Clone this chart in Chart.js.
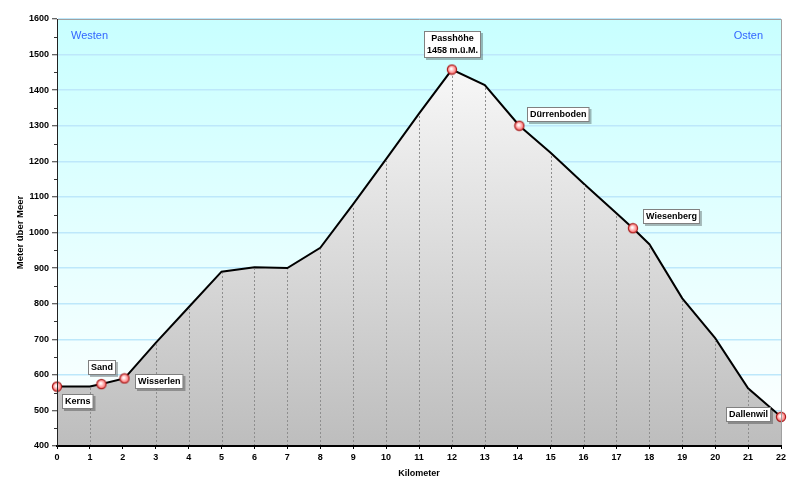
<!DOCTYPE html>
<html lang="de">
<head>
<meta charset="utf-8">
<title>Höhenprofil Kerns - Dallenwil</title>
<script src="https://cdn.jsdelivr.net/npm/chart.js@4/dist/chart.umd.min.js"></script>
<style>
  html, body { margin: 0; padding: 0; background: #fff; }
  #profil { display: block; }
</style>
</head>
<body>
<canvas id="profil" width="800" height="496"></canvas>
<script>
const kilometer = [0, 1, 1.35, 2.05, 3, 4, 5, 6, 7, 8, 9, 10, 11, 12, 13, 14.05, 15, 16, 17, 17.5, 18, 19, 20, 21, 22];
const hoehe = [567, 567, 574, 590, 690, 790, 890, 902, 900, 957, 1080, 1206, 1334, 1458, 1414, 1300, 1224, 1138, 1054, 1012, 967, 815, 703, 562, 482];

// Orte entlang der Strecke
const ortNamen = ['Kerns', 'Sand', 'Wisserlen', ['Passhöhe', '1458 m.ü.M.'], 'Dürrenboden', 'Wiesenberg', 'Dallenwil'];
const ortKm = [0, 1.35, 2.05, 12, 14.05, 17.5, 22];
const ortHoehe = [567, 574, 590, 1458, 1300, 1012, 482];

// Achsen
const kmMin = 0, kmMax = 22, kmSchritt = 1;
const hoeheMin = 400, hoeheMax = 1600, hoeheSchritt = 100;
const achsenTitelX = 'Kilometer';
const achsenTitelY = 'Meter über Meer';
const richtungLinks = 'Westen';
const richtungRechts = 'Osten';

// Lage der Beschriftungskästchen relativ zum Punkt (px)
const etikettVersatz = [[20, 14], [0, -17.5], [34, 3], [0, -26], [38, -12], [38, -12], [-33, -3]];

const schrift = '"Liberation Sans", Arial, sans-serif';

function markerBild() {
    const c = document.createElement('canvas');
    c.width = 12;
    c.height = 12;
    const g = c.getContext('2d');
    const grad = g.createRadialGradient(5.2, 5.2, 0.5, 6, 6, 5);
    grad.addColorStop(0, '#ffffff');
    grad.addColorStop(0.45, '#ffb4b4');
    grad.addColorStop(1, '#ff5a5a');
    g.beginPath();
    g.arc(6, 6, 4.6, 0, Math.PI * 2);
    g.fillStyle = grad;
    g.fill();
    g.lineWidth = 1.2;
    g.strokeStyle = '#a81c1c';
    g.stroke();
    return c;
}

const profilPlugin = {
    id: 'profil',
    beforeDraw(chart) {
        // Hintergrund des Diagrammbereichs
        const { ctx, chartArea: a } = chart;
        const g = ctx.createLinearGradient(0, a.top, 0, a.bottom);
        g.addColorStop(0, '#c8ffff');
        g.addColorStop(1, '#ffffff');
        ctx.save();
        ctx.fillStyle = g;
        ctx.fillRect(a.left, a.top, a.right - a.left, a.bottom - a.top);
        ctx.restore();
    },
    afterDatasetDraw(chart, args) {
        if (args.index !== 0) return;
        // gestrichelte Senkrechte unter der Profillinie
        const { ctx, chartArea: a } = chart;
        const meta = chart.getDatasetMeta(0);
        ctx.save();
        ctx.lineWidth = 1;
        ctx.setLineDash([2, 2]);
        meta.data.forEach((p, i) => {
            const km = kilometer[i];
            if (!Number.isInteger(km) || km === kmMin) return;
            const x = Math.round(p.x) + 0.5;
            ctx.strokeStyle = km === kmMax ? '#222' : '#8e8e8e';
            ctx.beginPath();
            ctx.moveTo(x, a.bottom);
            ctx.lineTo(x, p.y + 1.5);
            ctx.stroke();
        });
        ctx.restore();
    },
    afterDatasetsDraw(chart) {
        const { ctx, chartArea: a, scales } = chart;
        ctx.save();
        // Rahmen oben und rechts
        ctx.strokeStyle = '#a0a0a0';
        ctx.lineWidth = 1;
        ctx.beginPath();
        ctx.moveTo(a.left, a.top + 0.5);
        ctx.lineTo(a.right + 0.5, a.top + 0.5);
        ctx.lineTo(a.right + 0.5, a.bottom);
        ctx.stroke();

        // Zwischenstriche an der Y-Achse
        ctx.strokeStyle = '#333';
        for (let v = hoeheMin + hoeheSchritt / 2; v < hoeheMax; v += hoeheSchritt) {
            const y = Math.round(scales.y.getPixelForValue(v)) + 0.5;
            ctx.beginPath();
            ctx.moveTo(a.left - 3, y);
            ctx.lineTo(a.left, y);
            ctx.stroke();
        }

        // Ortsbeschriftungen
        const meta = chart.getDatasetMeta(1);
        ctx.font = 'bold 9px ' + schrift;
        ctx.textAlign = 'center';
        ctx.textBaseline = 'middle';
        meta.data.forEach((p, i) => {
            const zeilen = Array.isArray(ortNamen[i]) ? ortNamen[i] : [ortNamen[i]];
            const breite = Math.max(...zeilen.map(z => ctx.measureText(z).width)) + 5;
            const hoeheBox = zeilen.length * 12 + 2;
            const cx = p.x + etikettVersatz[i][0];
            const cy = p.y + etikettVersatz[i][1];
            const x0 = Math.round(cx - breite / 2) + 0.5;
            const y0 = Math.round(cy - hoeheBox / 2) + 0.5;
            ctx.fillStyle = 'rgba(0,0,0,0.28)';
            ctx.fillRect(x0 + 1.5, y0 + 1.5, breite + 1, hoeheBox + 1);
            ctx.fillStyle = '#fff';
            ctx.fillRect(x0, y0, breite, hoeheBox);
            ctx.strokeStyle = '#808080';
            ctx.strokeRect(x0, y0, breite, hoeheBox);
            ctx.fillStyle = '#000';
            zeilen.forEach((z, k) => {
                ctx.fillText(z, x0 + breite / 2, y0 + 7.5 + k * 12);
            });
        });
        ctx.restore();
    },
    afterDraw(chart) {
        const { ctx, chartArea: a } = chart;
        ctx.save();
        ctx.fillStyle = '#3366ff';
        ctx.font = '11px ' + schrift;
        ctx.textBaseline = 'middle';
        ctx.textAlign = 'left';
        ctx.fillText(richtungLinks, a.left + 14, a.top + 17);
        ctx.textAlign = 'right';
        ctx.fillText(richtungRechts, a.right - 18, a.top + 17);

        ctx.fillStyle = '#000';
        ctx.font = 'bold 9px ' + schrift;
        ctx.textAlign = 'center';
        ctx.fillText(achsenTitelX, (a.left + a.right) / 2, 474);
        ctx.translate(20, (a.top + a.bottom) / 2);
        ctx.rotate(-Math.PI / 2);
        ctx.font = 'bold 9.5px ' + schrift;
        ctx.fillText(achsenTitelY, 0, 0);
        ctx.restore();
    }
};

new Chart(document.getElementById('profil'), {
    type: 'line',
    data: {
        datasets: [
            {
                label: 'Profil',
                data: kilometer.map((km, i) => ({ x: km, y: hoehe[i] })),
                order: 2,
                borderColor: '#000',
                borderWidth: 2,
                tension: 0,
                pointRadius: 0,
                fill: 'start',
                backgroundColor(c) {
                    const a = c.chart.chartArea;
                    if (!a) return '#dddddd';
                    const g = c.chart.ctx.createLinearGradient(0, a.top, 0, a.bottom);
                    g.addColorStop(0, '#ffffff');
                    g.addColorStop(1, '#bdbdbd');
                    return g;
                }
            },
            {
                label: 'Orte',
                data: ortKm.map((km, i) => ({ x: km, y: ortHoehe[i] })),
                order: 1,
                showLine: false,
                clip: false,
                pointStyle: markerBild(),
                pointRadius: 6
            }
        ]
    },
    options: {
        responsive: false,
        animation: false,
        layout: { padding: { left: 0, top: 19, right: 19, bottom: 0 } },
        plugins: {
            legend: { display: false },
            tooltip: { enabled: false }
        },
        scales: {
            x: {
                type: 'linear',
                min: kmMin,
                max: kmMax,
                afterFit(s) { s.height = 50; },
                ticks: {
                    stepSize: kmSchritt,
                    color: '#000',
                    padding: 3,
                    callback: v => String(v),
                    font: { family: schrift, size: 9, weight: 'bold' }
                },
                grid: { drawOnChartArea: false, tickLength: 3, tickColor: '#000' },
                border: { color: '#000', width: 2, z: 1 }
            },
            y: {
                min: hoeheMin,
                max: hoeheMax,
                afterFit(s) { s.width = 57; },
                ticks: {
                    stepSize: hoeheSchritt,
                    color: '#000',
                    padding: 3,
                    callback: v => String(v),
                    font: { family: schrift, size: 9, weight: 'bold' }
                },
                grid: { color: '#bde8fb', lineWidth: 1.5, tickLength: 5, tickColor: '#333', tickWidth: 1 },
                border: { color: '#222', width: 1, z: 1 }
            }
        }
    },
    plugins: [profilPlugin]
});
</script>
</body>
</html>
